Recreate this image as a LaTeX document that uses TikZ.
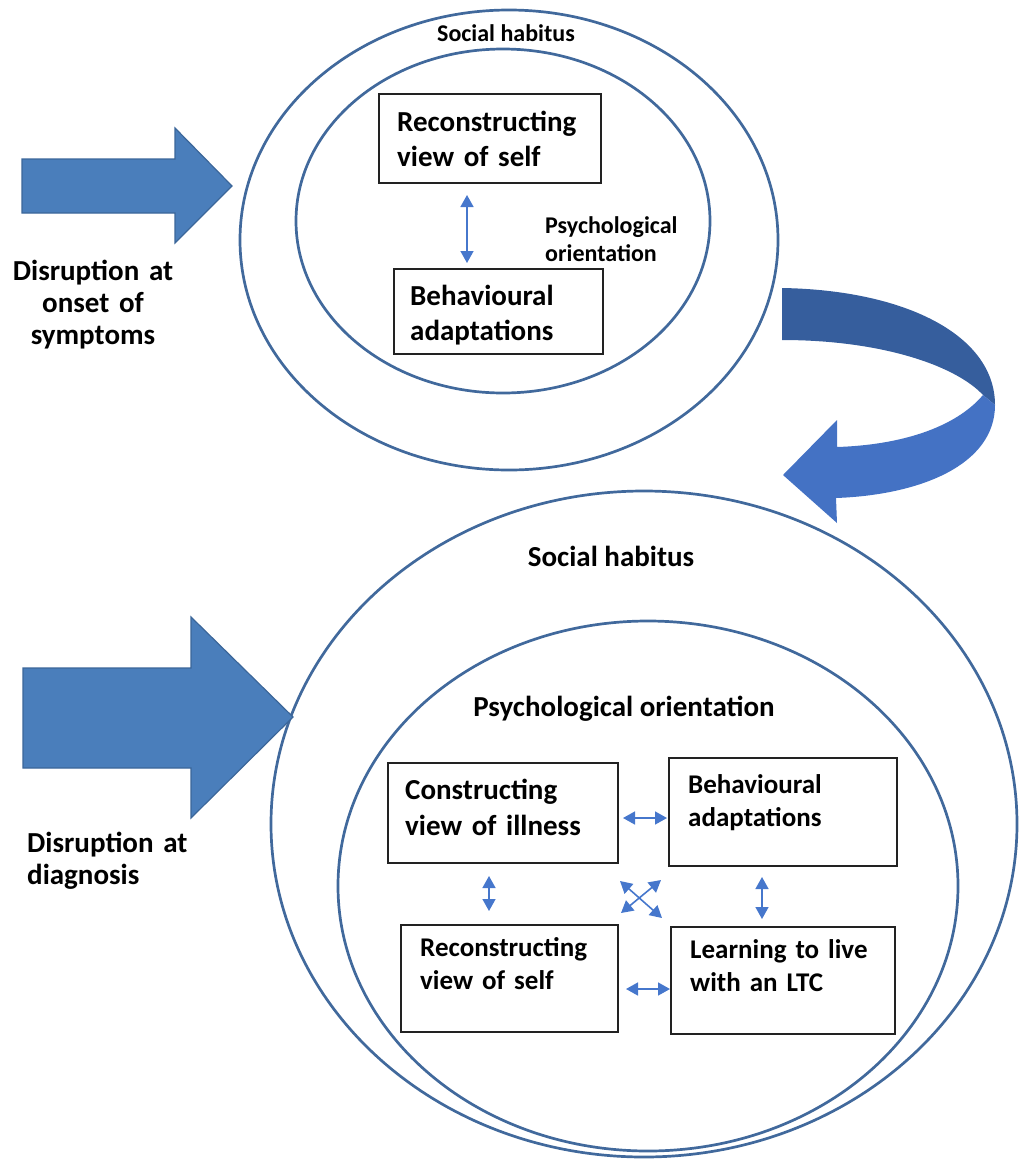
\documentclass[tikz,border=0pt]{standalone}
\usepackage{fontspec}
\setmainfont{Carlito}
\usetikzlibrary{arrows.meta,calc}
\definecolor{ringblue}{HTML}{41699C}
\definecolor{bigfill}{HTML}{4A7EBB}
\definecolor{bigedge}{HTML}{3B6699}
\definecolor{turndark}{HTML}{365E9D}
\definecolor{turnlight}{HTML}{4472C4}
\definecolor{linkblue}{HTML}{4677CC}
\definecolor{boxline}{HTML}{222222}
\begin{document}
\begin{tikzpicture}[x=1pt,y=-1pt,
  ring/.style={draw=ringblue, line width=2.7pt},
  stagebox/.style={draw=boxline, line width=1.8pt, rectangle, anchor=north west, inner sep=0pt},
  bigarrow/.style={fill=bigfill, draw=bigedge, line width=1.2pt, line join=miter},
  link/.style={draw=linkblue, line width=1.6pt,
    {Triangle[width=13pt,length=12pt]}-{Triangle[width=13pt,length=12pt]}},
  lbl/.style={inner sep=0pt, anchor=base west, align=left, text width=#1},
  lbl/.default=260pt,
  big/.style={font=\bfseries\fontsize{29}{35}\selectfont},
  mid/.style={font=\bfseries\fontsize{27}{33}\selectfont},
  small/.style={font=\bfseries\fontsize{24}{28}\selectfont}]
\useasboundingbox (0,0) rectangle (1019,1160);
\clip (0,0) rectangle (1019,1160);

% ---------- first stage: onset of symptoms ----------
\draw[ring] (509,240) ellipse [x radius=269pt, y radius=230pt];
\draw[ring] (503,221) ellipse [x radius=207pt, y radius=172pt];
\node[small, inner sep=0pt, anchor=base] (sh1) at (506,41) {Social habitus};

\node[stagebox, minimum width=222pt, minimum height=89pt] (tb1) at (378,93) {};
\node[stagebox, minimum width=209pt, minimum height=85pt] (tb2) at (393,268) {};
\node[big, lbl=220pt] (tb1t) at (397,131) {Reconstructing\\view of self};
\node[big, lbl=200pt] (tb2t) at (410,305) {Behavioural\\adaptations};
\node[small, lbl=160pt] (po1) at (545,233) {Psychological\\orientation};

\coordinate (t1a) at (467,195);
\coordinate (t1b) at (467,263);
\draw[link] (t1a) -- (t1b);

% onset arrow
\draw[bigarrow] (22,159) -- (175,159) -- (175,128) -- (232,186) -- (175,243) -- (175,213) -- (22,213) -- cycle;
\node[big, inner sep=0pt, anchor=base, align=center, text width=200pt,
      font=\bfseries\fontsize{29}{32}\selectfont] (d1) at (93,280) {Disruption at\\onset of\\symptoms};

% turning arrow between the stages
\fill[turndark] (782,288) .. controls (905,290) and (995,335) .. (995,405)
  -- (983,395) .. controls (955,365) and (880,340) .. (782,340) -- cycle;
\fill[turnlight] (983,395) .. controls (955,428) and (900,445) .. (837,447)
  -- (837,420) -- (783,475) -- (837,523) -- (836,498)
  .. controls (920,495) and (995,465) .. (995,405) -- cycle;

% ---------- second stage: diagnosis ----------
\draw[ring] (644,824) ellipse [x radius=373pt, y radius=333pt];
\draw[ring] (648,886) ellipse [x radius=310pt, y radius=265pt];
\node[big, inner sep=0pt, anchor=base] (sh2) at (611,566) {Social habitus};
\node[big, inner sep=0pt, anchor=base] (po2) at (624,716) {Psychological orientation};

\node[stagebox, minimum width=230pt, minimum height=100pt] (b1) at (387,762) {};
\node[stagebox, minimum width=228pt, minimum height=108pt] (b2) at (668,757) {};
\node[stagebox, minimum width=217pt, minimum height=107pt] (b3) at (400,924) {};
\node[stagebox, minimum width=224pt, minimum height=107pt] (b4) at (670,926) {};
\node[font=\bfseries\fontsize{29}{36}\selectfont, lbl=210pt] (b1t) at (405,799) {Constructing\\view of illness};
\node[mid, lbl=200pt] (b2t) at (688,793) {Behavioural\\adaptations};
\node[mid, lbl=190pt] (b3t) at (420,956) {Reconstructing\\view of self};
\node[mid, lbl=200pt] (b4t) at (690,958) {Learning to live\\with an LTC};

\coordinate (h1a) at (623,818); \coordinate (h1b) at (667,818);
\coordinate (h2a) at (626,989); \coordinate (h2b) at (670,989);
\coordinate (v1a) at (489,876); \coordinate (v1b) at (489,911);
\coordinate (v2a) at (762,877); \coordinate (v2b) at (762,919);
\coordinate (x1a) at (620,881); \coordinate (x1b) at (662,918);
\coordinate (x2a) at (661,880); \coordinate (x2b) at (621,913);
\draw[link] (h1a) -- (h1b);
\draw[link] (h2a) -- (h2b);
\draw[link] (v1a) -- (v1b);
\draw[link] (v2a) -- (v2b);
\draw[link] (x1a) -- (x1b);
\draw[link] (x2a) -- (x2b);

% diagnosis arrow
\draw[bigarrow] (23,668) -- (191,668) -- (191,617) -- (293,717) -- (191,818) -- (191,768) -- (23,768) -- cycle;
\node[font=\bfseries\fontsize{29}{32}\selectfont, lbl=200pt] (d2) at (27,852) {Disruption at\\diagnosis};
\end{tikzpicture}
\end{document}
